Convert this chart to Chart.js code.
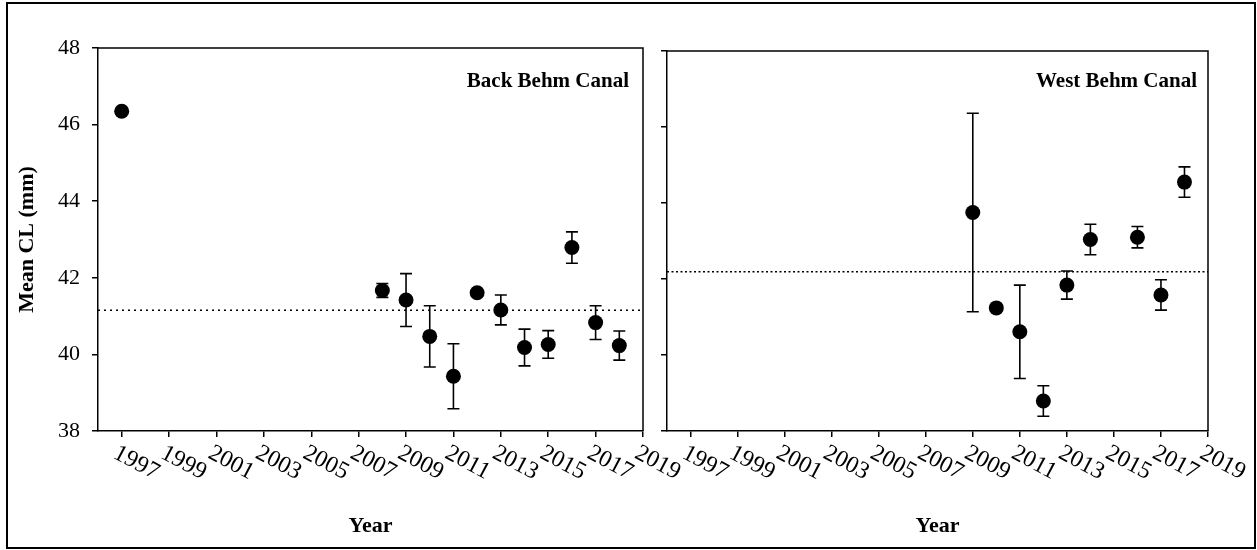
<!DOCTYPE html>
<html>
<head>
<meta charset="utf-8">
<script src="https://cdn.jsdelivr.net/npm/chart.js@4/dist/chart.umd.min.js"></script>
<style>
html,body{margin:0;padding:0;background:#fff;}
#wrap{position:relative;width:1257px;height:550px;overflow:hidden;}
canvas{position:absolute;left:0;top:0;}
#frame{position:absolute;left:6px;top:2px;width:1250px;height:547px;box-sizing:border-box;border:2px solid #000;pointer-events:none;}
</style>
</head>
<body>
<div id="wrap">
<canvas id="c1" width="1257" height="550"></canvas>
<canvas id="c2" width="1257" height="550"></canvas>
<div id="frame"></div>
</div>
<script>
// ---------- data ----------
const yearTicks = [1997, 1999, 2001, 2003, 2005, 2007, 2009, 2011, 2013, 2015, 2017, 2019];
const yearTickLabels = ['1997', '1999', '2001', '2003', '2005', '2007', '2009', '2011', '2013', '2015', '2017', '2019'];
const clTicks = [38, 40, 42, 44, 46, 48];

const backTitle = 'Back Behm Canal';
const backYears = [1997, 2008, 2009, 2010, 2011, 2012, 2013, 2014, 2015, 2016, 2017, 2018];
const backMean  = [46.35, 41.67, 41.42, 40.47, 39.43, 41.61, 41.16, 40.18, 40.26, 42.79, 40.83, 40.23];
const backErr   = [0, 0.18, 0.69, 0.80, 0.85, 0, 0.39, 0.48, 0.36, 0.41, 0.44, 0.38];
const backOverall = 41.15;

const westTitle = 'West Behm Canal';
const westYears = [2009, 2010, 2011, 2012, 2013, 2014, 2016, 2017, 2018];
const westMean  = [43.75, 41.24, 40.61, 38.79, 41.84, 43.04, 43.10, 41.58, 44.55];
const westErr   = [2.61, 0, 1.23, 0.40, 0.37, 0.40, 0.28, 0.40, 0.40];
const westOverall = 42.19;

const xTitle = 'Year';
const yTitle = 'Mean CL (mm)';
const xMin = 1996, xMax = 2019, yMin = 38, yMax = 48;

// ---------- helpers ----------
const SERIF = '"Liberation Serif", "Times New Roman", serif';
Chart.defaults.color = '#000';
Chart.defaults.font.family = SERIF;

function makeDecor(years, mean, err, title, titleInset) {
  return {
    id: 'decor',
    beforeDatasetsDraw(chart) {
      const {ctx, scales: {x, y}} = chart;
      ctx.save();
      ctx.strokeStyle = '#000';
      ctx.lineWidth = 1.6;
      years.forEach((yr, i) => {
        const e = err[i];
        if (!e) return;
        const px = x.getPixelForValue(yr);
        const t = y.getPixelForValue(mean[i] + e);
        const b = y.getPixelForValue(mean[i] - e);
        ctx.beginPath();
        ctx.moveTo(px, t); ctx.lineTo(px, b);
        ctx.moveTo(px - 6, t); ctx.lineTo(px + 6, t);
        ctx.moveTo(px - 6, b); ctx.lineTo(px + 6, b);
        ctx.stroke();
      });
      ctx.restore();
    },
    afterDraw(chart) {
      const {ctx, chartArea: a, scales: {x}} = chart;
      ctx.save();
      // top and right frame of the plot box
      ctx.strokeStyle = '#000';
      ctx.lineWidth = 1.5;
      ctx.beginPath();
      ctx.moveTo(a.left, a.top);
      ctx.lineTo(a.right, a.top);
      ctx.lineTo(a.right, a.bottom);
      ctx.stroke();
      // rotated year labels
      ctx.fillStyle = '#000';
      ctx.font = '24px ' + SERIF;
      ctx.textAlign = 'left';
      ctx.textBaseline = 'top';
      yearTicks.forEach((v, i) => {
        const px = x.getPixelForValue(v);
        ctx.save();
        ctx.translate(px - 1, a.bottom + 10);
        ctx.rotate(28 * Math.PI / 180);
        ctx.fillText(yearTickLabels[i], 0, 0);
        ctx.restore();
      });
      // panel title
      ctx.font = 'bold 21px ' + SERIF;
      ctx.textAlign = 'right';
      ctx.textBaseline = 'alphabetic';
      ctx.fillText(title, a.right - titleInset, 87);
      ctx.restore();
    }
  };
}

function makeChart(canvasId, years, mean, err, overall, title, opts) {
  const pts = years.map((yr, i) => ({x: yr, y: mean[i]}));
  return new Chart(document.getElementById(canvasId), {
    type: 'scatter',
    data: {
      datasets: [
        {
          data: pts,
          pointRadius: 7.5,
          pointHoverRadius: 7.5,
          pointBackgroundColor: '#000',
          pointBorderColor: '#000',
          pointBorderWidth: 0,
          showLine: false
        },
        {
          type: 'line',
          data: [{x: xMin, y: overall}, {x: xMax, y: overall}],
          borderColor: '#000',
          borderWidth: 1.5,
          borderDash: opts.dash,
          pointRadius: 0,
          fill: false
        }
      ]
    },
    options: {
      responsive: false,
      animation: false,
      events: [],
      layout: {padding: {left: 0, top: opts.top, right: opts.right, bottom: 0}},
      plugins: {legend: {display: false}, tooltip: {enabled: false}, title: {display: false}},
      scales: {
        x: {
          type: 'linear',
          min: xMin, max: xMax,
          afterBuildTicks: s => { s.ticks = yearTicks.map(v => ({value: v})); },
          afterFit: s => { s.height = 119; },
          ticks: {display: false},
          grid: {drawOnChartArea: false, drawTicks: true, tickLength: 6, color: '#000', lineWidth: 1.5},
          border: {display: true, color: '#000', width: 1.5},
          title: {display: true, text: xTitle, font: {family: SERIF, size: 22, weight: 'bold'}, padding: {top: 0, bottom: 10}, color: '#000'}
        },
        y: {
          type: 'linear',
          min: yMin, max: yMax,
          afterBuildTicks: s => { s.ticks = clTicks.map(v => ({value: v})); },
          afterFit: s => { s.width = opts.yWidth; },
          ticks: {display: opts.showYLabels, padding: 12, font: {family: SERIF, size: 22}, color: '#000'},
          grid: {drawOnChartArea: false, drawTicks: true, tickLength: 6, color: '#000', lineWidth: 1.5},
          border: {display: true, color: '#000', width: 1.5},
          title: {display: opts.showYTitle, text: yTitle, font: {family: SERIF, size: 22, weight: 'bold'}, padding: {top: 14, bottom: 0}, color: '#000'}
        }
      }
    },
    plugins: [makeDecor(years, mean, err, title, opts.titleInset)]
  });
}

makeChart('c1', backYears, backMean, backErr, backOverall, backTitle,
  {top: 48, right: 614, yWidth: 98, showYLabels: true, showYTitle: true, titleInset: 14, dash: [2, 4]});
makeChart('c2', westYears, westMean, westErr, westOverall, westTitle,
  {top: 51, right: 49, yWidth: 667, showYLabels: false, showYTitle: false, titleInset: 11, dash: [2, 2.5]});
</script>
</body>
</html>
